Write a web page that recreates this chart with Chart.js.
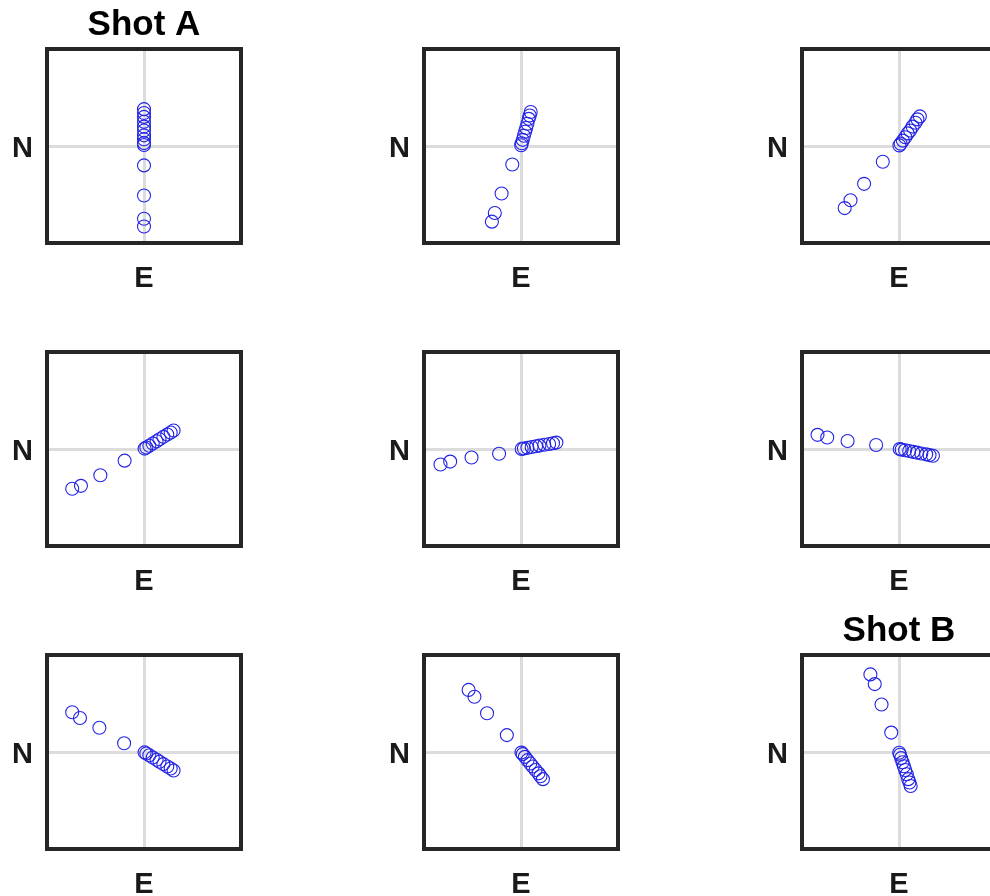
<!DOCTYPE html>
<html>
<head>
<meta charset="utf-8">
<script src="https://cdn.jsdelivr.net/npm/chart.js@4.4.1/dist/chart.umd.min.js"></script>
<style>
  html, body { margin: 0; padding: 0; background: #fff; overflow: hidden; }
  #wrap { position: relative; width: 990px; height: 896px; overflow: hidden; }
  #wrap canvas { position: absolute; }
</style>
</head>
<body>
<div id="wrap"></div>
<script>
// particle motion, one panel per rotation step (20 deg apart)
const panelTitles = ['Shot A', '', '', '', '', '', '', '', 'Shot B'];

const eastPos = [
  [0, 0, 0, 0, 0, 0, 0, 0, 0, 0, 0, 0, 0, 0],
  [0.10, 0.09, 0.08, 0.066, 0.053, 0.042, 0.03, 0.018, 0.008, 0.002, -0.09, -0.20, -0.27, -0.30],
  [0.215, 0.19, 0.17, 0.14, 0.115, 0.09, 0.065, 0.04, 0.017, 0.004, -0.167, -0.36, -0.50, -0.56],
  [0.305, 0.275, 0.24, 0.20, 0.16, 0.13, 0.09, 0.055, 0.024, 0.006, -0.20, -0.45, -0.65, -0.74],
  [0.365, 0.33, 0.29, 0.24, 0.19, 0.155, 0.11, 0.066, 0.03, 0.007, -0.226, -0.51, -0.73, -0.83],
  [0.35, 0.315, 0.28, 0.23, 0.185, 0.147, 0.105, 0.063, 0.028, 0.007, -0.236, -0.53, -0.74, -0.84],
  [0.305, 0.275, 0.24, 0.20, 0.16, 0.13, 0.09, 0.055, 0.024, 0.006, -0.205, -0.46, -0.66, -0.74],
  [0.226, 0.20, 0.18, 0.15, 0.12, 0.095, 0.068, 0.04, 0.018, 0.005, -0.146, -0.35, -0.48, -0.54],
  [0.12, 0.108, 0.095, 0.08, 0.064, 0.05, 0.036, 0.022, 0.01, 0.002, -0.08, -0.18, -0.25, -0.295]
];

const northPos = [
  [0.38, 0.34, 0.30, 0.25, 0.20, 0.16, 0.11, 0.07, 0.03, 0.01, -0.20, -0.51, -0.75, -0.83],
  [0.35, 0.315, 0.28, 0.23, 0.185, 0.147, 0.105, 0.063, 0.028, 0.007, -0.19, -0.49, -0.69, -0.78],
  [0.305, 0.275, 0.24, 0.20, 0.16, 0.13, 0.09, 0.055, 0.024, 0.006, -0.163, -0.39, -0.56, -0.64],
  [0.19, 0.17, 0.15, 0.125, 0.10, 0.08, 0.057, 0.034, 0.015, 0.004, -0.12, -0.27, -0.38, -0.41],
  [0.066, 0.06, 0.052, 0.044, 0.035, 0.028, 0.02, 0.012, 0.005, 0.001, -0.049, -0.087, -0.13, -0.16],
  [-0.07, -0.063, -0.055, -0.046, -0.037, -0.03, -0.021, -0.013, -0.006, -0.001, 0.042, 0.083, 0.118, 0.146],
  [-0.19, -0.17, -0.15, -0.125, -0.10, -0.08, -0.057, -0.034, -0.015, -0.004, 0.09, 0.25, 0.35, 0.41],
  [-0.28, -0.25, -0.22, -0.185, -0.15, -0.118, -0.084, -0.05, -0.022, -0.006, 0.174, 0.40, 0.57, 0.64],
  [-0.35, -0.315, -0.28, -0.23, -0.185, -0.147, -0.105, -0.063, -0.028, -0.007, 0.20, 0.49, 0.70, 0.80]
];

const axisLimits = [-1, 1];

// page layout
const colLeft = [47, 424, 802];
const rowTop = [49, 352, 655];
const boxSize = 194;
const pad = { left: 47, top: 49, right: 49, bottom: 57 };

const labelFont = 'bold 29px "Liberation Sans", Arial, sans-serif';
const titleFont = 'bold 35px "Liberation Sans", Arial, sans-serif';

// frame + N/E labels + optional title
const panelDecor = {
  id: 'panelDecor',
  afterDraw(chart, args, opts) {
    const ctx = chart.ctx;
    const a = chart.chartArea;
    const cx = (a.left + a.right) / 2;
    const cy = (a.top + a.bottom) / 2;
    ctx.save();
    ctx.strokeStyle = '#262626';
    ctx.lineWidth = 4;
    ctx.strokeRect(a.left, a.top, a.right - a.left, a.bottom - a.top);
    ctx.fillStyle = '#1a1a1a';
    ctx.textAlign = 'center';
    ctx.textBaseline = 'alphabetic';
    ctx.font = labelFont;
    ctx.fillText('N', a.left - 24.5, cy + 11);
    ctx.fillText('E', cx, a.bottom + 44);
    if (opts.title) {
      ctx.fillStyle = '#000';
      ctx.font = titleFont;
      ctx.fillText(opts.title, cx, a.top - 14);
    }
    ctx.restore();
  }
};

const wrap = document.getElementById('wrap');

for (let i = 0; i < 9; i++) {
  const row = Math.floor(i / 3), col = i % 3;
  const canvas = document.createElement('canvas');
  canvas.width = boxSize + pad.left + pad.right;
  canvas.height = boxSize + pad.top + pad.bottom;
  canvas.style.left = (colLeft[col] - pad.left) + 'px';
  canvas.style.top = (rowTop[row] - pad.top) + 'px';
  wrap.appendChild(canvas);

  const points = eastPos[i].map((e, k) => ({ x: e, y: northPos[i][k] }));

  const axis = {
    type: 'linear',
    min: axisLimits[0],
    max: axisLimits[1],
    ticks: { display: false, stepSize: 1 },
    border: { display: false },
    grid: {
      drawTicks: false,
      lineWidth: 3,
      color: c => (c.tick && c.tick.value === 0) ? '#dcdcdc' : 'rgba(0,0,0,0)'
    }
  };

  new Chart(canvas, {
    type: 'scatter',
    data: {
      datasets: [{
        data: points,
        pointStyle: 'circle',
        pointRadius: 6.5,
        pointBorderWidth: 1.1,
        pointBorderColor: '#2323e6',
        pointBackgroundColor: 'rgba(0,0,0,0)'
      }]
    },
    options: {
      responsive: false,
      animation: false,
      events: [],
      layout: { padding: pad },
      scales: { x: axis, y: axis },
      plugins: {
        legend: { display: false },
        tooltip: { enabled: false },
        panelDecor: { title: panelTitles[i] }
      }
    },
    plugins: [panelDecor]
  });
}
</script>
</body>
</html>
